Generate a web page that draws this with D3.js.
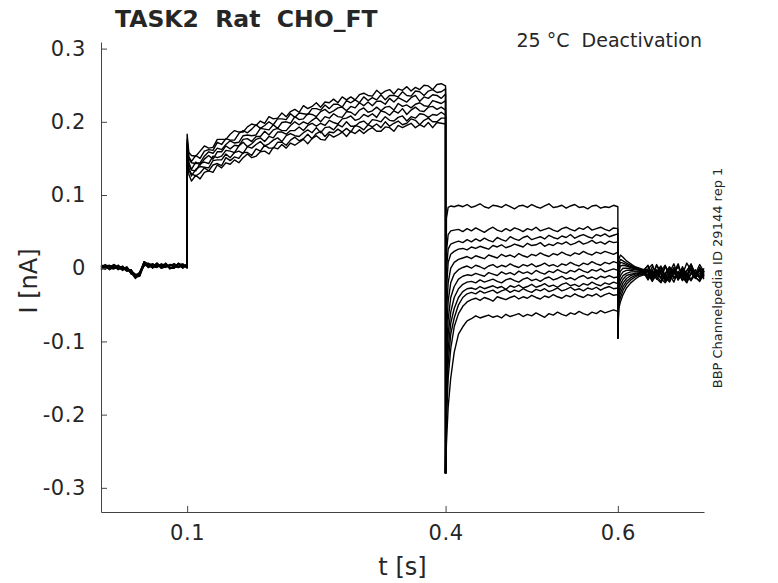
<!DOCTYPE html>
<html>
<head>
<meta charset="utf-8">
<script src="https://cdn.jsdelivr.net/npm/d3@7"></script>
<style>
  body { margin: 0; background: #fff; }
  text { font-family: "DejaVu Sans", sans-serif; fill: #262626; white-space: pre; }
  .trace { fill: none; stroke: #000; stroke-width: 1.4; stroke-linejoin: round; }
</style>
</head>
<body>
<div id="chart"></div>
<script>
// ---- data (current in nA, time in s) ----
var xTicks = [0.1, 0.4, 0.6];
var yTicks = [-0.3, -0.2, -0.1, 0, 0.1, 0.2, 0.3];

var offSpike = -0.28;   // capacitive spike when prepulse ends (t = 0.4)
var endSpike = -0.095;  // spike when test pulse ends (t = 0.6)

// sample clocks of each segment
var tBase = d3.range(0, 0.1001, 0.005);
var tPre = [0.1, 0.102].concat(d3.range(0.105, 0.4001, 0.005));
var tTest = [0.401, 0.403, 0.406, 0.41].concat(d3.range(0.415, 0.6001, 0.005));
var tTail = [0.601, 0.603, 0.606, 0.61].concat(d3.range(0.615, 0.7001, 0.005));

// holding level before the step
var base1 = [0.003,-0.001,0.002,0.005,-0.001,0.001,-0.004,-0.003,-0.013,-0.005,0.007,0.001,0.005,0.003,0.006,0.002,0.003,0.006,0.001,0.005,0.002];
var base2 = [-0.001,0.004,0.000,-0.001,0.004,-0.002,0.001,-0.008,-0.010,-0.010,0.009,0.006,0.000,0.007,0.002,0.005,0.000,0.002,0.006,0.000,0.005];
var base3 = [0.004,0.003,-0.002,0.004,0.000,0.003,-0.003,-0.004,-0.008,-0.009,0.004,0.007,0.002,0.001,0.005,0.001,0.005,0.004,0.002,0.004,0.000];
var base4 = [0.000,-0.001,0.003,0.000,0.004,-0.001,0.002,-0.006,-0.014,-0.006,0.009,0.002,0.004,0.006,0.000,0.007,0.001,0.001,0.007,0.002,0.005];
var base5 = [0.002,0.005,-0.001,0.003,-0.002,0.002,-0.002,-0.002,-0.012,-0.011,0.005,0.005,0.006,0.002,0.004,0.003,0.004,0.006,0.003,0.001,0.004];
var base6 = [-0.002,0.003,0.004,0.001,0.003,-0.003,0.000,-0.007,-0.009,-0.007,0.008,0.003,0.001,0.005,0.001,0.006,-0.001,0.004,0.005,0.006,0.001];
var base7 = [0.003,0.001,-0.001,0.005,0.002,0.002,-0.004,-0.002,-0.013,-0.009,0.007,0.001,0.006,0.002,0.005,0.005,0.000,0.000,0.006,0.002,0.006];
var base8 = [0.000,0.004,0.002,0.000,0.000,-0.002,0.001,-0.006,-0.010,-0.006,0.003,0.006,0.002,0.007,0.000,0.002,0.005,0.002,0.001,0.005,0.002];

// activating prepulse 0.1 - 0.4 s
var pre1 = [0.183,0.158,
  0.154,0.153,0.160,0.167,0.164,0.165,0.176,0.176,0.176,0.183,
  0.188,0.186,0.186,0.193,0.197,0.195,0.201,0.198,0.207,0.204,
  0.205,0.212,0.207,0.214,0.217,0.213,0.222,0.218,0.221,0.226,
  0.220,0.227,0.226,0.231,0.226,0.234,0.230,0.234,0.230,0.237,
  0.239,0.236,0.235,0.243,0.238,0.242,0.244,0.238,0.245,0.243,
  0.248,0.242,0.247,0.244,0.250,0.249,0.244,0.251,0.252,0.249];
var pre2 = [0.176,0.152,
  0.146,0.154,0.150,0.160,0.162,0.161,0.172,0.169,0.177,0.175,
  0.175,0.184,0.188,0.185,0.190,0.196,0.191,0.195,0.200,0.196,
  0.204,0.204,0.203,0.211,0.206,0.212,0.211,0.210,0.218,0.218,
  0.216,0.223,0.218,0.224,0.224,0.220,0.229,0.226,0.230,0.226,
  0.234,0.229,0.233,0.230,0.237,0.230,0.236,0.236,0.234,0.241,
  0.236,0.235,0.242,0.241,0.236,0.242,0.244,0.240,0.241,0.245];
var pre3 = [0.172,0.150,
  0.144,0.143,0.144,0.153,0.159,0.157,0.164,0.162,0.169,0.174,
  0.171,0.172,0.181,0.182,0.181,0.182,0.191,0.190,0.189,0.196,
  0.191,0.199,0.200,0.198,0.207,0.203,0.204,0.211,0.210,0.207,
  0.214,0.217,0.212,0.215,0.219,0.220,0.215,0.221,0.219,0.226,
  0.222,0.227,0.222,0.228,0.228,0.224,0.232,0.227,0.233,0.230,
  0.227,0.233,0.236,0.228,0.234,0.232,0.237,0.236,0.232,0.238];
var pre4 = [0.168,0.144,
  0.135,0.145,0.141,0.149,0.154,0.149,0.159,0.159,0.167,0.163,
  0.168,0.167,0.176,0.177,0.173,0.180,0.180,0.187,0.182,0.189,
  0.191,0.188,0.188,0.195,0.200,0.196,0.200,0.197,0.202,0.206,
  0.200,0.207,0.205,0.211,0.207,0.206,0.214,0.213,0.209,0.216,
  0.219,0.213,0.215,0.220,0.215,0.220,0.221,0.216,0.225,0.221,
  0.223,0.219,0.224,0.226,0.222,0.221,0.229,0.227,0.225,0.229];
var pre5 = [0.165,0.142,
  0.134,0.133,0.143,0.145,0.143,0.153,0.151,0.153,0.161,0.160,
  0.158,0.167,0.172,0.166,0.170,0.176,0.178,0.173,0.180,0.178,
  0.186,0.186,0.183,0.188,0.188,0.193,0.188,0.195,0.198,0.194,
  0.198,0.195,0.202,0.199,0.197,0.204,0.205,0.208,0.202,0.204,
  0.210,0.207,0.211,0.206,0.215,0.213,0.209,0.215,0.212,0.218,
  0.210,0.216,0.220,0.215,0.214,0.220,0.221,0.217,0.220,0.216];
var pre6 = [0.162,0.137,
  0.126,0.135,0.139,0.138,0.137,0.147,0.148,0.148,0.156,0.151,
  0.158,0.160,0.157,0.166,0.164,0.169,0.173,0.167,0.170,0.175,
  0.178,0.173,0.181,0.184,0.181,0.180,0.185,0.189,0.185,0.192,
  0.185,0.192,0.193,0.189,0.196,0.193,0.200,0.194,0.194,0.199,
  0.201,0.196,0.203,0.202,0.200,0.207,0.202,0.201,0.206,0.208,
  0.201,0.207,0.205,0.211,0.210,0.206,0.210,0.209,0.213,0.209];
var pre7 = [0.160,0.134,
  0.129,0.126,0.130,0.137,0.133,0.141,0.143,0.140,0.151,0.147,
  0.152,0.150,0.158,0.158,0.154,0.163,0.160,0.168,0.164,0.164,
  0.172,0.172,0.168,0.175,0.179,0.174,0.177,0.183,0.177,0.184,
  0.187,0.180,0.186,0.185,0.190,0.186,0.191,0.186,0.195,0.193,
  0.189,0.196,0.193,0.197,0.192,0.200,0.194,0.198,0.201,0.196,
  0.198,0.204,0.202,0.196,0.202,0.205,0.200,0.200,0.205,0.205];
var pre8 = [0.158,0.128,
  0.119,0.127,0.122,0.131,0.133,0.131,0.141,0.137,0.144,0.142,
  0.148,0.144,0.151,0.156,0.151,0.153,0.159,0.160,0.156,0.165,
  0.163,0.169,0.164,0.171,0.168,0.172,0.176,0.170,0.177,0.181,
  0.176,0.175,0.183,0.179,0.182,0.186,0.180,0.187,0.184,0.189,
  0.184,0.189,0.192,0.187,0.187,0.193,0.192,0.187,0.195,0.192,
  0.195,0.198,0.192,0.196,0.193,0.199,0.192,0.199,0.198,0.197];

// deactivating test pulses 0.4 - 0.6 s
var test1 = [0.068,0.083,0.085,0.084,
  0.086,0.084,0.087,0.083,0.085,0.088,0.084,0.082,0.086,0.085,
  0.083,0.087,0.084,0.081,0.085,0.086,0.083,0.087,0.084,0.082,
  0.085,0.088,0.083,0.084,0.086,0.082,0.085,0.087,0.083,0.084,
  0.081,0.085,0.086,0.082,0.084,0.083,0.086,0.084];
var test2 = [0.022,0.046,0.051,0.052,
  0.053,0.050,0.054,0.051,0.055,0.052,0.049,0.053,0.056,0.052,
  0.050,0.054,0.051,0.055,0.053,0.050,0.054,0.052,0.056,0.051,
  0.053,0.055,0.052,0.050,0.054,0.056,0.053,0.051,0.055,0.053,
  0.057,0.052,0.054,0.056,0.053,0.051,0.055,0.054];
var test3 = [-0.002,0.026,0.033,0.035,
  0.037,0.035,0.039,0.036,0.040,0.037,0.041,0.038,0.036,0.042,
  0.039,0.037,0.043,0.040,0.038,0.042,0.044,0.039,0.041,0.043,
  0.040,0.045,0.042,0.040,0.044,0.042,0.046,0.041,0.044,0.046,
  0.043,0.041,0.046,0.044,0.047,0.043,0.045,0.047];
var test4 = [-0.030,0.008,0.019,0.023,
  0.026,0.027,0.025,0.029,0.027,0.030,0.028,0.026,0.031,0.029,
  0.032,0.028,0.030,0.033,0.031,0.029,0.034,0.031,0.032,0.035,
  0.030,0.033,0.031,0.035,0.033,0.036,0.032,0.034,0.037,0.033,
  0.035,0.038,0.034,0.036,0.033,0.037,0.035,0.036];
var test5 = [-0.060,-0.020,0.000,0.008,
  0.012,0.014,0.016,0.013,0.017,0.015,0.013,0.018,0.016,0.014,
  0.019,0.016,0.018,0.015,0.020,0.017,0.015,0.019,0.017,0.021,
  0.018,0.016,0.020,0.018,0.022,0.019,0.017,0.021,0.019,0.023,
  0.020,0.018,0.022,0.020,0.023,0.021,0.019,0.022];
var test6 = [-0.090,-0.045,-0.020,-0.008,
  -0.002,0.001,0.003,0.000,0.004,0.002,-0.001,0.003,0.005,0.001,
  0.004,0.002,0.006,0.003,0.001,0.005,0.003,0.006,0.002,0.004,
  0.007,0.003,0.005,0.002,0.006,0.004,0.008,0.005,0.003,0.007,
  0.005,0.009,0.006,0.004,0.008,0.006,0.009,0.007];
var test7 = [-0.120,-0.070,-0.040,-0.025,
  -0.015,-0.011,-0.009,-0.010,-0.007,-0.009,-0.011,-0.006,-0.008,-0.010,
  -0.005,-0.008,-0.006,-0.009,-0.004,-0.007,-0.005,-0.008,-0.003,-0.006,
  -0.008,-0.004,-0.006,-0.002,-0.005,-0.007,-0.003,-0.005,-0.001,-0.004,
  -0.006,-0.002,-0.004,-0.001,-0.005,-0.003,-0.001,-0.003];
var test8 = [-0.150,-0.090,-0.060,-0.040,
  -0.028,-0.022,-0.019,-0.018,-0.020,-0.016,-0.019,-0.017,-0.015,-0.018,
  -0.020,-0.016,-0.014,-0.017,-0.019,-0.015,-0.013,-0.017,-0.015,-0.018,
  -0.014,-0.012,-0.016,-0.014,-0.011,-0.015,-0.013,-0.016,-0.012,-0.010,
  -0.014,-0.012,-0.015,-0.011,-0.013,-0.010,-0.013,-0.012];
var test9 = [-0.170,-0.110,-0.075,-0.055,
  -0.040,-0.032,-0.028,-0.027,-0.029,-0.025,-0.028,-0.026,-0.024,-0.027,
  -0.025,-0.029,-0.024,-0.026,-0.023,-0.027,-0.025,-0.022,-0.026,-0.024,
  -0.021,-0.025,-0.023,-0.026,-0.022,-0.020,-0.024,-0.022,-0.025,-0.021,
  -0.023,-0.019,-0.022,-0.024,-0.020,-0.022,-0.019,-0.021];
var test10 = [-0.190,-0.130,-0.090,-0.068,
  -0.050,-0.040,-0.035,-0.033,-0.035,-0.031,-0.034,-0.032,-0.030,-0.034,
  -0.031,-0.029,-0.033,-0.030,-0.032,-0.028,-0.031,-0.033,-0.029,-0.031,
  -0.028,-0.032,-0.030,-0.027,-0.031,-0.029,-0.026,-0.030,-0.028,-0.031,
  -0.027,-0.029,-0.026,-0.030,-0.027,-0.025,-0.028,-0.027];
var test11 = [-0.210,-0.150,-0.110,-0.080,
  -0.062,-0.052,-0.046,-0.043,-0.041,-0.044,-0.040,-0.042,-0.045,-0.039,
  -0.041,-0.043,-0.040,-0.038,-0.042,-0.039,-0.041,-0.037,-0.040,-0.042,
  -0.038,-0.040,-0.036,-0.039,-0.041,-0.037,-0.039,-0.035,-0.038,-0.040,
  -0.036,-0.038,-0.035,-0.039,-0.036,-0.034,-0.037,-0.036];
var test12 = [-0.240,-0.190,-0.150,-0.115,
  -0.090,-0.080,-0.072,-0.069,-0.065,-0.068,-0.066,-0.064,-0.067,-0.065,
  -0.068,-0.063,-0.066,-0.064,-0.062,-0.066,-0.063,-0.065,-0.061,-0.064,
  -0.067,-0.062,-0.064,-0.060,-0.063,-0.065,-0.061,-0.063,-0.059,-0.062,
  -0.064,-0.060,-0.062,-0.058,-0.061,-0.059,-0.057,-0.059];

// tails after return to holding 0.6 - 0.7 s
var tail1 = [0.012,0.018,0.015,0.010,0.006,0.002,0.000,-0.002,0.003,-0.012,0.004,-0.008,-0.015,0.001,-0.006,0.006,-0.013,-0.003,0.004,-0.010,-0.001,-0.011];
var tail2 = [0.006,0.012,0.010,0.007,0.004,0.001,-0.001,-0.003,-0.001,0.005,-0.011,-0.004,0.004,-0.014,-0.006,0.002,-0.009,0.007,-0.003,-0.012,0.001,-0.006];
var tail3 = [0.000,0.008,0.007,0.005,0.002,0.000,-0.002,-0.003,0.004,-0.009,-0.002,-0.013,0.002,-0.006,0.006,-0.011,-0.003,-0.015,0.001,-0.008,0.005,-0.005];
var tail4 = [-0.006,0.003,0.004,0.003,0.001,-0.001,-0.002,-0.004,-0.002,-0.012,0.005,-0.006,-0.016,0.001,-0.008,0.003,-0.012,-0.004,0.006,-0.010,-0.002,-0.008];
var tail5 = [-0.012,-0.004,0.000,0.000,-0.001,-0.002,-0.003,-0.004,-0.011,0.002,-0.006,-0.014,0.003,-0.008,-0.003,-0.016,-0.001,-0.010,0.005,-0.008,-0.013,-0.003];
var tail6 = [-0.018,-0.010,-0.005,-0.003,-0.003,-0.004,-0.004,-0.005,-0.003,-0.013,-0.005,0.003,-0.010,-0.017,-0.003,-0.012,0.002,-0.008,-0.015,-0.005,-0.011,0.000];
var tail7 = [-0.024,-0.016,-0.010,-0.007,-0.005,-0.005,-0.005,-0.005,-0.014,-0.004,-0.011,-0.018,-0.007,0.002,-0.013,-0.005,-0.016,-0.009,-0.002,-0.013,-0.007,-0.015];
var tail8 = [-0.030,-0.022,-0.015,-0.010,-0.008,-0.007,-0.006,-0.006,-0.004,-0.016,-0.008,0.001,-0.013,-0.019,-0.006,-0.014,-0.002,-0.011,-0.017,-0.008,-0.004,-0.013];
var tail9 = [-0.036,-0.028,-0.020,-0.014,-0.010,-0.008,-0.007,-0.006,-0.016,-0.006,-0.014,-0.020,-0.008,-0.001,-0.014,-0.006,-0.017,-0.010,0.000,-0.012,-0.018,-0.008];
var tail10 = [-0.042,-0.034,-0.025,-0.018,-0.013,-0.010,-0.008,-0.007,-0.005,-0.017,-0.010,-0.002,-0.015,-0.008,-0.019,-0.004,-0.012,-0.020,-0.006,-0.014,-0.002,-0.011];
var tail11 = [-0.048,-0.040,-0.030,-0.022,-0.016,-0.012,-0.009,-0.008,-0.008,-0.018,-0.004,-0.014,-0.020,-0.010,0.000,-0.016,-0.008,-0.019,-0.006,-0.013,-0.017,-0.004];
var tail12 = [-0.055,-0.046,-0.036,-0.027,-0.020,-0.015,-0.011,-0.009,-0.010,-0.002,-0.015,-0.006,-0.018,-0.009,0.001,-0.013,-0.004,-0.016,-0.008,-0.002,-0.014,-0.007];

var baseSweeps = [base1, base2, base3, base4, base5, base6, base7, base8];
var preSweeps = [pre1, pre2, pre3, pre4, pre5, pre6, pre7, pre8];
var testSweeps = [test1, test2, test3, test4, test5, test6, test7, test8, test9, test10, test11, test12];
var tailSweeps = [tail1, tail2, tail3, tail4, tail5, tail6, tail7, tail8, tail9, tail10, tail11, tail12];

// ---- layout ----
var svgWidth = 778;
var svgHeight = 583;
var margin = { top: 42, right: 74, bottom: 71, left: 101 };
var width = svgWidth - margin.left - margin.right;
var height = svgHeight - margin.top - margin.bottom;

var svg = d3.select("#chart")
  .append("svg")
  .attr("width", svgWidth)
  .attr("height", svgHeight);

var chartGroup = svg.append("g")
  .attr("transform", `translate(${margin.left}, ${margin.top})`);

var xScale = d3.scaleLinear().domain([0, 0.7]).range([0, width]);
var yScale = d3.scaleLinear().domain([-0.333, 0.309]).range([height, 0]);

var line = d3.line()
  .x(d => xScale(d[0]))
  .y(d => yScale(d[1]));

// sweep = holding + prepulse, ends in the off spike
var preLines = preSweeps.map(function(vals, i) {
  var pts = tBase.map((t, j) => [t, baseSweeps[i][j]]);
  pts = pts.concat(tPre.map((t, j) => [t, vals[j]]));
  pts.push([0.4, offSpike]);
  return pts;
});

// sweep = test pulse + tail
var testLines = testSweeps.map(function(vals, i) {
  var pts = [[0.4, offSpike]];
  pts = pts.concat(tTest.map((t, j) => [t, vals[j]]));
  pts.push([0.6, endSpike]);
  pts = pts.concat(tTail.map((t, j) => [t, tailSweeps[i][j]]));
  return pts;
});

chartGroup.selectAll(".pre")
  .data(preLines)
  .enter().append("path")
  .attr("class", "trace pre")
  .attr("d", line);

chartGroup.selectAll(".test")
  .data(testLines)
  .enter().append("path")
  .attr("class", "trace test")
  .attr("d", line);

// axes (ticks point inward, no box)
var bottomAxis = d3.axisBottom(xScale)
  .tickValues(xTicks)
  .tickFormat(d => String(d))
  .tickSizeInner(-6).tickSizeOuter(0).tickPadding(13);
var leftAxis = d3.axisLeft(yScale)
  .tickValues(yTicks)
  .tickFormat(d => String(d))
  .tickSizeInner(-6).tickSizeOuter(0).tickPadding(15);

var xAxisG = chartGroup.append("g")
  .attr("transform", `translate(0, ${height})`)
  .call(bottomAxis);
var yAxisG = chartGroup.append("g")
  .call(leftAxis);

[xAxisG, yAxisG].forEach(function(g) {
  g.selectAll("path, line").attr("stroke", "#444");
  g.selectAll("text")
    .attr("fill", "#262626")
    .attr("font-family", "DejaVu Sans")
    .attr("font-size", 21)
    .attr("letter-spacing", 0.6);
});

// labels
svg.append("text")
  .attr("x", margin.left + width / 2)
  .attr("y", 575)
  .attr("text-anchor", "middle")
  .attr("font-size", 24)
  .text("t [s]");

svg.append("text")
  .attr("transform", "rotate(-90)")
  .attr("x", -281)
  .attr("y", 37)
  .attr("text-anchor", "middle")
  .attr("font-size", 24)
  .text("I [nA]");

svg.append("text")
  .attr("x", 115)
  .attr("y", 27)
  .attr("font-size", 23.5)
  .attr("font-weight", "bold")
  .attr("fill", "#000")
  .text("TASK2  Rat  CHO_FT");

svg.append("text")
  .attr("x", 702)
  .attr("y", 47)
  .attr("text-anchor", "end")
  .attr("font-size", 19)
  .attr("fill", "#000")
  .text("25 °C  Deactivation");

svg.append("text")
  .attr("transform", "rotate(-90)")
  .attr("x", -278)
  .attr("y", 722)
  .attr("text-anchor", "middle")
  .attr("font-size", 13)
  .attr("fill", "#000")
  .text("BBP Channelpedia ID 29144 rep 1");
</script>
</body>
</html>
